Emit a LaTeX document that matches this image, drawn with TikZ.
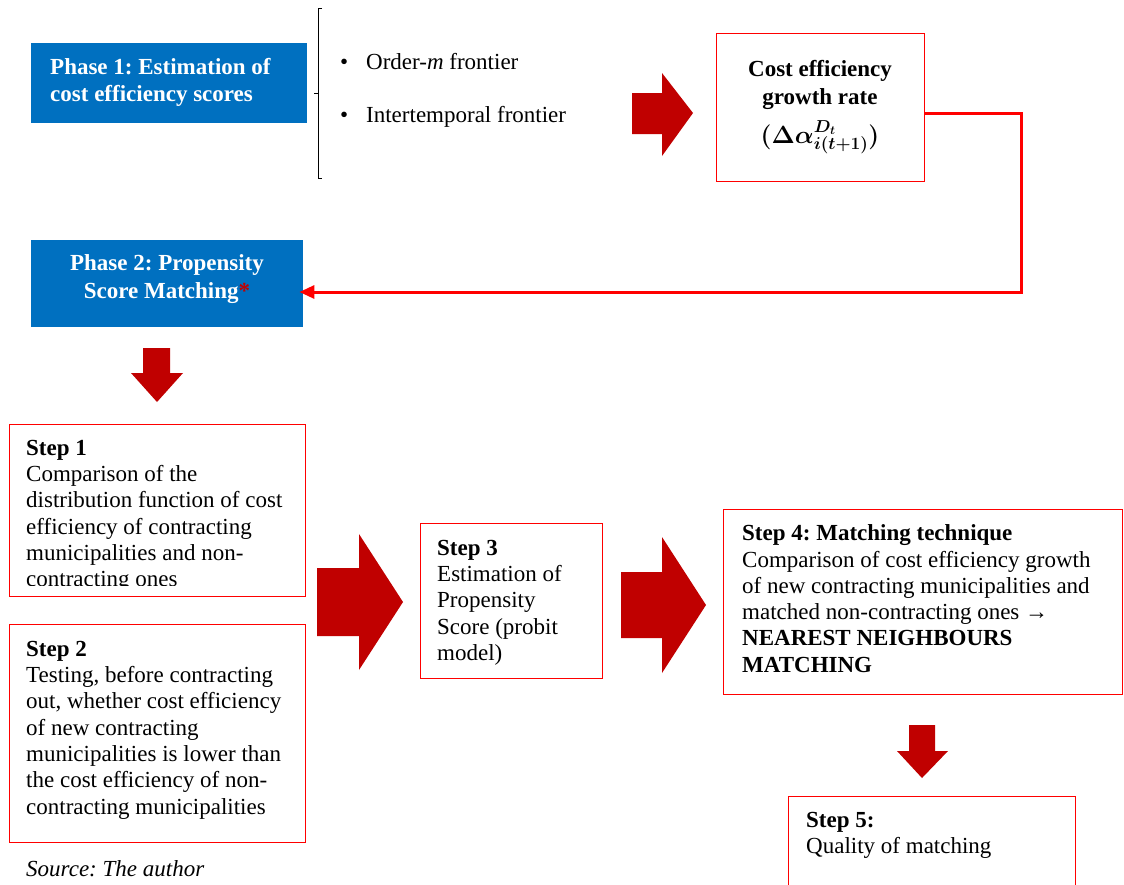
\documentclass[tikz,border=0pt]{standalone}
\usepackage{fontspec}
\setmainfont{Liberation Serif}
\usetikzlibrary{arrows.meta}
\definecolor{phaseblue}{HTML}{0070C0}
\definecolor{boxred}{HTML}{FF0000}
\definecolor{arrowred}{HTML}{C00000}
% fixed first-line height, so a node's top lies 18pt above its first baseline
\newcommand{\firstline}{\rule{0pt}{18pt}}
\frenchspacing
\begin{document}
\begin{tikzpicture}[x=1pt,y=-1pt,
  body/.style={font=\fontsize{23}{26.3}\selectfont, inner sep=0pt, align=left, anchor=north west},
  phasebox/.style={fill=phaseblue, draw=none, anchor=north west, inner sep=0pt},
  stepbox/.style={draw=boxred, line width=1.4pt, anchor=north west, inner sep=0pt},
  blockarrow/.style={fill=arrowred, draw=none},
  link/.style={draw=boxred, line width=3pt, -{Triangle[length=15pt,width=13pt]}, shorten >=-4pt}
]
\useasboundingbox (0,0) rectangle (1124,884);

% ---------- Phase 1 ----------
\node[phasebox, minimum width=276pt, minimum height=80pt] (p1) at (31,43) {};
\node[body, text=white, font=\fontsize{23}{27}\selectfont\bfseries] (p1t) at (50,56.5)
  {\firstline Phase 1: Estimation of\\cost efficiency scores};

% bracket holding the two frontier types
\draw[line width=0.8pt] (322,8) -- (318,8) -- (318,178) -- (322,178);
\draw[line width=0.8pt] (318,93) -- (314,93);
\node[body] (b1) at (340,51) {\firstline\makebox[26pt][l]{\textbullet}Order-\textit{m} frontier};
\node[body] (b2) at (340,104) {\firstline\makebox[26pt][l]{\textbullet}Intertemporal frontier};

% block arrow towards the growth rate
\fill[blockarrow] (632,93) -- (662,93) -- (662,73) -- (693,113) -- (662,156) -- (662,134) -- (632,134) -- cycle;

% ---------- Cost efficiency growth rate ----------
\node[stepbox, minimum width=208pt, minimum height=148pt] (cost) at (716,33) {};
\node[body, align=center, anchor=north, font=\fontsize{23}{28}\selectfont\bfseries] (costt) at (820,58)
  {\firstline Cost efficiency\\growth rate\\[10pt]{\boldmath$(\Delta\alpha^{D_t}_{i(t+1)})$}};

% ---------- Phase 2 ----------
\node[phasebox, minimum width=272pt, minimum height=87pt] (p2) at (31,240) {};
\node[body, align=center, anchor=north, text=white, font=\fontsize{23}{27.3}\selectfont\bfseries] (p2t) at (167,252.7)
  {\firstline Phase 2: Propensity\\Score Matching{\color{arrowred}*}};

% feedback line from the growth rate to phase 2
\coordinate (c1) at (1021,113);
\coordinate (c2) at (1021,292);
\draw[link] (cost.east |- c1) -- (c1) -- (c2) -- (p2.east |- c2);

% down arrow under phase 2
\fill[blockarrow] (143,348) -- (170,348) -- (170,373) -- (183,373) -- (157,402) -- (131,373) -- (143,373) -- cycle;

% ---------- Step 1 ----------
\node[stepbox, minimum width=296pt, minimum height=172pt] (s1) at (9,424) {};
\begin{scope}
  \clip (9,424) rectangle (305,585);
  \node[body] (s1t) at (26,437)
    {\firstline\textbf{Step 1}\\Comparison of the\\distribution function of cost\\efficiency of contracting\\municipalities and non-\\contracting ones};
\end{scope}

% ---------- Step 2 ----------
\node[stepbox, minimum width=296pt, minimum height=218pt] (s2) at (9,624) {};
\node[body] (s2t) at (26,638)
  {\firstline\textbf{Step 2}\\Testing, before contracting\\out, whether cost efficiency\\of new contracting\\municipalities is lower than\\the cost efficiency of non-\\contracting municipalities};

\node[body, font=\fontsize{23}{26.3}\selectfont\itshape] (src) at (26,858) {\firstline Source: The author};

% big arrow towards step 3
\fill[blockarrow] (317,568) -- (359,568) -- (359,534) -- (403,602) -- (359,670) -- (359,636) -- (317,636) -- cycle;

% ---------- Step 3 ----------
\node[stepbox, minimum width=182pt, minimum height=155pt] (s3) at (420,523) {};
\node[body] (s3t) at (437,537)
  {\firstline\textbf{Step 3}\\Estimation of\\Propensity\\Score (probit\\model)};

% big arrow towards step 4
\fill[blockarrow] (621,572) -- (662,572) -- (662,537) -- (706,605) -- (662,673) -- (662,638) -- (621,638) -- cycle;

% ---------- Step 4 ----------
\node[stepbox, minimum width=399pt, minimum height=185pt] (s4) at (723,509) {};
\node[body] (s4t) at (742,522.5)
  {\firstline\textbf{Step 4: Matching technique}\\Comparison of cost efficiency growth\\of new contracting municipalities and\\matched non-contracting ones →\\\textbf{NEAREST NEIGHBOURS}\\\textbf{MATCHING}};

% down arrow towards step 5
\fill[blockarrow] (909,725) -- (935,725) -- (935,751) -- (948,751) -- (922,778) -- (897,751) -- (909,751) -- cycle;

% ---------- Step 5 ----------
\node[stepbox, minimum width=287pt, minimum height=120pt] (s5) at (788,796) {};
\node[body] (s5t) at (806,809)
  {\firstline\textbf{Step 5:}\\Quality of matching};
\end{tikzpicture}
\end{document}
